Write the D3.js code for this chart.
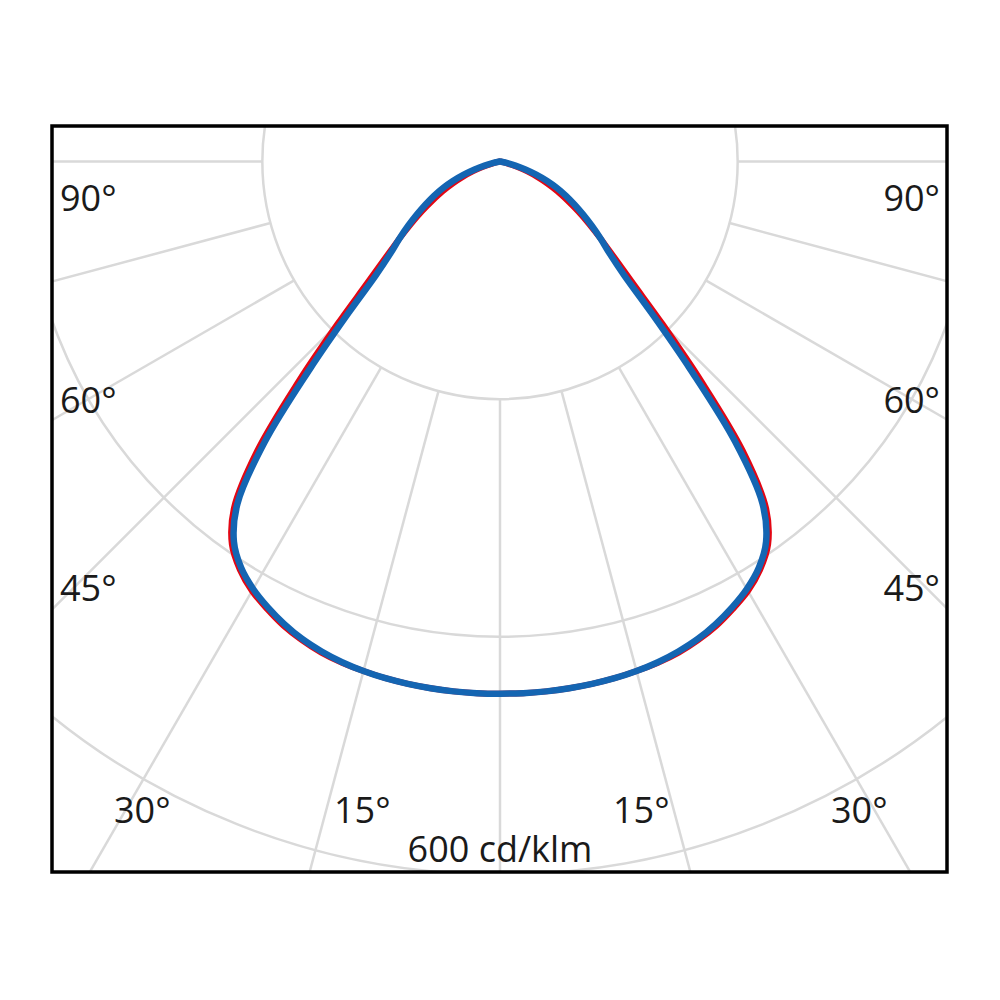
<!DOCTYPE html>
<html>
<head>
<meta charset="utf-8">
<script src="https://cdn.jsdelivr.net/npm/d3@7"></script>
<style>
  html, body { margin: 0; padding: 0; background: #fff; }
  svg { display: block; }
  text { font-family: "Open Sans", "Noto Sans", sans-serif; fill: #1a1a1a; }
</style>
</head>
<body>
<svg width="1000" height="1000"></svg>
<script>
// gamma angles (deg from nadir), one half of the symmetric curve
const gammas = [0, 2.5, 5, 7.5, 10, 12.5, 15, 17.5, 20, 22.5, 25, 27.5, 30, 32.5, 35, 37.5,
                40, 42.5, 45, 47.5, 50, 52.5, 55, 57.5, 60, 62.5, 65, 67.5, 70, 72.5, 75,
                77.5, 80, 82.5, 85, 87.5, 90];

// intensity in cd/klm, blue plane
const blueValues = [447.8, 447.8, 447.6, 447.1, 446.4, 445.4, 443.9, 441.8, 438.8, 434.9, 429.5, 423, 415.4, 405.4, 390.4, 362.9,
                    307.9, 236.7, 180.5, 141.8, 120.5, 106.8, 94.3, 82.8, 72.3, 62.6, 52.9, 42.9, 32.4, 22.4, 13.4,
                    6.4, 2.2, 0.5, 0, 0, 0];

// intensity in cd/klm, red plane
const redValues = [447.8, 447.8, 447.6, 447.1, 446.4, 445.4, 443.9, 442.3, 439.8, 435.9, 431, 424.5, 417.4, 407.4, 393.4, 367.9,
                   317.9, 250.7, 193.5, 151.8, 125.5, 106.8, 91.3, 77.8, 65.3, 54.6, 43.9, 33.9, 24.4, 15.4, 7.4,
                   2.4, 0.2, 0, 0, 0, 0];

const rings = [200, 400, 600];
const spokes = [0, 15, 30, 45, 60, 75, 90, 105, 120];
const unitLabel = "600 cd/klm";

// angle labels: side of frame they sit on
const sideLabels = ["90°", "60°", "45°"];
const bottomLabels = ["30°", "15°"];

const svg = d3.select("svg");

const frame = {x: 52, y: 126, w: 895, h: 746};
const cx = 500, cy = 161.5;

const r = d3.scaleLinear().domain([0, 600]).range([0, 713]);

svg.append("clipPath").attr("id", "clip")
  .append("rect")
  .attr("x", frame.x).attr("y", frame.y)
  .attr("width", frame.w).attr("height", frame.h);

const plot = svg.append("g").attr("clip-path", "url(#clip)");
const g = plot.append("g").attr("transform", `translate(${cx},${cy})`);

// grid: rings
g.selectAll("circle.ring")
  .data(rings)
  .join("circle")
  .attr("class", "ring")
  .attr("r", d => r(d))
  .attr("fill", "none")
  .attr("stroke", "#d9d9d9")
  .attr("stroke-width", 2.5);

// grid: spokes on both sides, starting at the first ring
const spokeAngles = [];
spokes.forEach(s => {
  spokeAngles.push(Math.PI + s * Math.PI / 180);
  if (s !== 0) spokeAngles.push(Math.PI - s * Math.PI / 180);
});

g.selectAll("line.spoke")
  .data(spokeAngles)
  .join("line")
  .attr("class", "spoke")
  .attr("x1", a => r(rings[0]) * Math.sin(a))
  .attr("y1", a => -r(rings[0]) * Math.cos(a))
  .attr("x2", a => r(1000) * Math.sin(a))
  .attr("y2", a => -r(1000) * Math.cos(a))
  .attr("stroke", "#d9d9d9")
  .attr("stroke-width", 2.5);

// curves: left half from 90 down to 0, then right half from 0 up to 90
function fullCurve(values) {
  const pts = [];
  for (let i = gammas.length - 1; i >= 0; i--) {
    pts.push({a: Math.PI + gammas[i] * Math.PI / 180, v: values[i]});
  }
  for (let i = 1; i < gammas.length; i++) {
    pts.push({a: Math.PI - gammas[i] * Math.PI / 180, v: values[i]});
  }
  return pts;
}

const line = d3.lineRadial()
  .angle(d => d.a)
  .radius(d => r(d.v))
  .curve(d3.curveCatmullRom.alpha(0.5));

const series = [
  {name: "red", values: redValues, color: "#e30613", width: 6},
  {name: "blue", values: blueValues, color: "#1465b2", width: 6.5}
];

g.selectAll("path.curve")
  .data(series)
  .join("path")
  .attr("class", "curve")
  .attr("d", d => line(fullCurve(d.values)))
  .attr("fill", "none")
  .attr("stroke", d => d.color)
  .attr("stroke-width", d => d.width)
  .attr("stroke-linejoin", "round")
  .attr("stroke-linecap", "round");

// labels
const fs = 36;
const sideY = [211, 413, 601];
sideLabels.forEach((t, i) => {
  svg.append("text").attr("x", 60).attr("y", sideY[i])
    .attr("font-size", fs).text(t);
  svg.append("text").attr("x", 940).attr("y", sideY[i])
    .attr("font-size", fs).attr("text-anchor", "end").text(t);
});

const bottomX = [[114, 831], [334, 613]];
bottomLabels.forEach((t, i) => {
  svg.append("text").attr("x", bottomX[i][0]).attr("y", 823)
    .attr("font-size", fs).text(t);
  svg.append("text").attr("x", bottomX[i][1]).attr("y", 823)
    .attr("font-size", fs).text(t);
});

svg.append("text").attr("x", 500).attr("y", 862)
  .attr("font-size", fs).attr("text-anchor", "middle").text(unitLabel);

// frame
svg.append("rect")
  .attr("x", frame.x).attr("y", frame.y)
  .attr("width", frame.w).attr("height", frame.h)
  .attr("fill", "none")
  .attr("stroke", "#000")
  .attr("stroke-width", 3.5);
</script>
</body>
</html>
